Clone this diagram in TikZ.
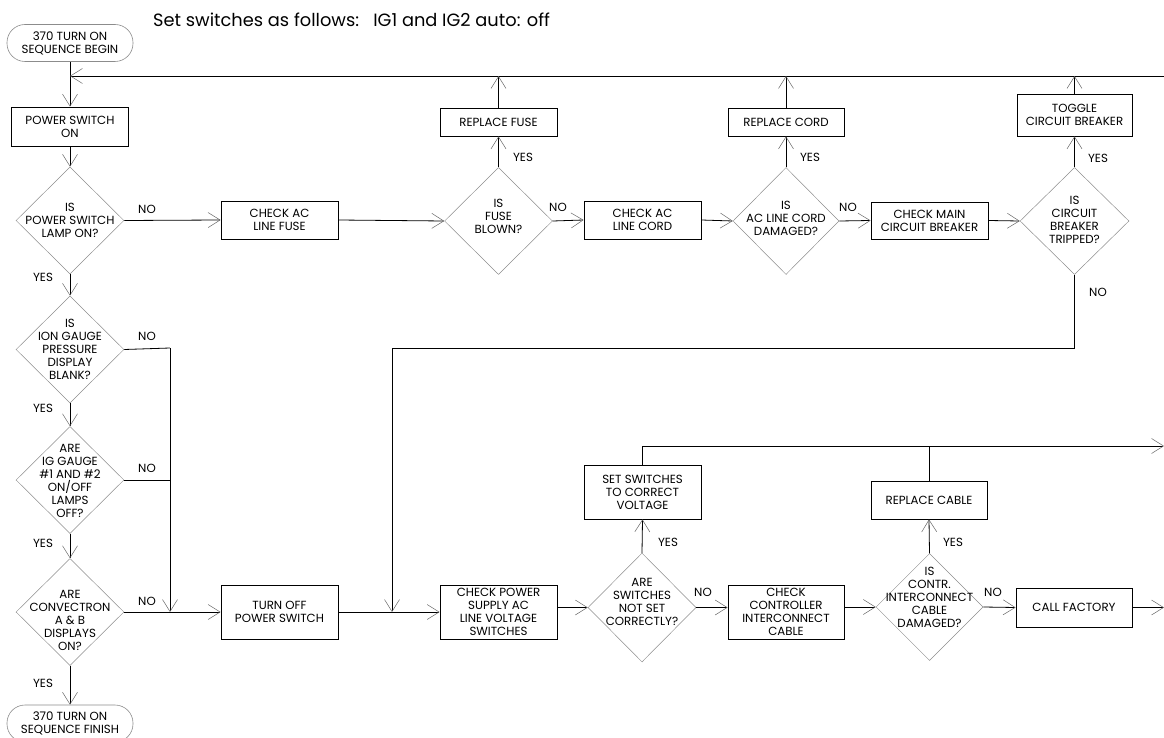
\documentclass[tikz,border=0pt]{standalone}
\usepackage{fontspec}
\setmainfont{Poppins}
\usetikzlibrary{shapes.geometric,arrows.meta}
\begin{document}
\begin{tikzpicture}[x=1pt,y=-1pt,
  every node/.style={font=\fontsize{11.8}{13}\selectfont, inner sep=0pt},
  box/.style={draw, line width=0.8pt, minimum width=117pt, align=center},
  dia/.style={diamond, draw=black!45, line width=0.5pt, minimum width=108pt, minimum height=107pt},
  dtext/.style={align=center},
  term/.style={draw=black!45, line width=0.6pt, rounded corners=18pt, minimum width=126pt, minimum height=37pt, align=center},
  lbl/.style={},
  link/.style={line width=0.8pt},
  >={Straight Barb[length=12pt,width=15pt,line width=0.5pt,color=black!60]}
]
\useasboundingbox (0,0) rectangle (1164,738);

\node[anchor=west, font=\fontsize{17.8}{20}\selectfont] (title) at (153,20) {Set switches as follows:\ \ \ IG1 and IG2 auto: off};

% left column
\node[term] (begin) at (70,43) {370 TURN ON\\SEQUENCE BEGIN};
\node[box, minimum height=39pt] (psw) at (70,126.5) {POWER SWITCH\\ON};
\node[dia] (d1) at (70,220.5) {};
\node[dtext] (d1t) at (70,220) {IS\\POWER SWITCH\\LAMP ON?};
\node[dia] (d2) at (70,349.5) {};
\node[dtext] (d2t) at (70,349) {IS\\ION GAUGE\\PRESSURE\\DISPLAY\\BLANK?};
\node[dia] (d3) at (70,480) {};
\node[dtext] (d3t) at (70,481) {ARE\\IG GAUGE\\\#1 AND \#2\\ON/OFF\\LAMPS\\OFF?};
\node[dia] (d4) at (70,612) {};
\node[dtext] (d4t) at (70,620) {ARE\\CONVECTRON\\A \& B\\DISPLAYS\\ON?};
\node[term] (finish) at (70,723.5) {370 TURN ON\\SEQUENCE FINISH};

\node[box, minimum height=38pt] (fuse) at (279.5,220) {CHECK AC\\LINE FUSE};
\node[box, minimum height=54pt] (toff) at (279.5,612) {TURN OFF\\POWER SWITCH};

% top row
\node[dia] (df) at (498.5,221) {};
\node[dtext] (dft) at (498.5,216) {IS\\FUSE\\BLOWN?};
\node[box, minimum height=28pt] (rf) at (498.5,122) {REPLACE FUSE};
\node[box, minimum height=38pt] (cord) at (642.5,220) {CHECK AC\\LINE CORD};
\node[dia, minimum width=106pt] (dc) at (786,221) {};
\node[dtext] (dct) at (786,218) {IS\\AC LINE CORD\\DAMAGED?};
\node[box, minimum width=116pt, minimum height=28pt] (rc) at (786,122) {REPLACE CORD};
\node[box, minimum height=37pt] (cmb) at (929.5,220.5) {CHECK MAIN\\CIRCUIT BREAKER};
\node[dia, minimum width=109pt] (dcb) at (1074.5,221) {};
\node[dtext] (dcbt) at (1074.5,220) {IS\\CIRCUIT\\BREAKER\\TRIPPED?};
\node[box, minimum width=115pt, minimum height=42pt] (tcb) at (1074.5,115) {TOGGLE\\CIRCUIT BREAKER};

% bottom row
\node[box, minimum height=54pt] (cps) at (498.5,612) {CHECK POWER\\SUPPLY AC\\LINE VOLTAGE\\SWITCHES};
\node[dia, minimum height=109pt] (dsw) at (642,607.5) {};
\node[dtext] (dswt) at (642,602) {ARE\\SWITCHES\\NOT SET\\CORRECTLY?};
\node[box, minimum height=54pt] (ssw) at (642.5,492) {SET SWITCHES\\TO CORRECT\\VOLTAGE};
\node[box, minimum width=116pt, minimum height=54pt] (ccc) at (786,612) {CHECK\\CONTROLLER\\INTERCONNECT\\CABLE};
\node[dia, minimum width=107pt] (dcab) at (929.5,607) {};
\node[dtext] (dcabt) at (929.5,597) {IS\\CONTR.\\INTERCONNECT\\CABLE\\DAMAGED?};
\node[box, minimum width=116pt, minimum height=38pt] (rcab) at (929,500) {REPLACE CABLE};
\node[box, minimum width=116pt, minimum height=39pt] (cf) at (1074,607.5) {CALL FACTORY};

% coordinates
\coordinate (fbL) at (70,76);
\coordinate (fbR) at (1164,76);
\coordinate (noL) at (170,348);
\coordinate (noJ) at (170,612);
\coordinate (ret) at (392,348);
\coordinate (retJ) at (392,612);
\coordinate (bfR) at (1164,446);
\coordinate (cfR) at (1164,607.5);

% connectors
\draw[link,->] (begin) -- (psw);
\draw[link,->] (fbR) -- (fbL);
\draw[link,->] (psw) -- (d1);
\draw[link,->] (d1) -- (d2);
\draw[link,->] (d2) -- (d3);
\draw[link,->] (d3) -- (d4);
\draw[link,->] (d4) -- (finish);
\draw[link,->] (d1.east) -- (fuse.west);
\draw[link] (d2.east) -- (noL);
\draw[link,->] (noL) -- (noJ);
\draw[link] (d3.east) -- (d3.east -| noL);
\draw[link,->] (d4.east) -- (toff.west);
\draw[link,->] (toff.east) -- (cps.west);
\draw[link,->] (dcb.south) -- (dcb.south |- ret) -- (ret) -- (retJ);

\draw[link,->] (fuse.east) -- (df.west);
\draw[link,->] (df.north) -- (rf.south);
\draw[link,->] (rf.north) -- (rf.north |- fbL);
\draw[link,->] (df.east) -- (cord.west);
\draw[link,->] (cord.east) -- (dc.west);
\draw[link,->] (dc.north) -- (rc.south);
\draw[link,->] (rc.north) -- (rc.north |- fbL);
\draw[link,->] (dc.east) -- (cmb.west);
\draw[link,->] (cmb.east) -- (dcb.west);
\draw[link,->] (dcb.north) -- (tcb.south);
\draw[link,->] (tcb.north) -- (tcb.north |- fbL);

\draw[link,->] (cps.east |- dsw) -- (dsw.west);
\draw[link,->] (dsw.north) -- (ssw.south);
\draw[link,->] (ssw.north) -- (ssw.north |- bfR) -- (bfR);
\draw[link] (rcab.north) -- (rcab.north |- bfR);
\draw[link,->] (dsw.east) -- (dsw.east -| ccc.west);
\draw[link,->] (ccc.east |- dcab) -- (dcab.west);
\draw[link,->] (dcab.north) -- (rcab.south);
\draw[link,->] (dcab.east) -- (cf.west);
\draw[link,->] (cf.east) -- (cfR);

% labels
\node[lbl] (n1) at (147,209) {NO};
\node[lbl] (y1) at (43,277) {YES};
\node[lbl] (n2) at (147,336) {NO};
\node[lbl] (y2) at (43,408) {YES};
\node[lbl] (n3) at (147,468) {NO};
\node[lbl] (y3) at (43,543) {YES};
\node[lbl] (n4) at (147,601) {NO};
\node[lbl] (y4) at (43,683) {YES};
\node[lbl] (yf) at (523,157) {YES};
\node[lbl] (nf) at (558,207) {NO};
\node[lbl] (yc) at (810,157) {YES};
\node[lbl] (nc) at (848,207) {NO};
\node[lbl] (ycb) at (1098,158) {YES};
\node[lbl] (ncb) at (1098,292) {NO};
\node[lbl] (ysw) at (668,542) {YES};
\node[lbl] (nsw) at (703,592) {NO};
\node[lbl] (ycab) at (953,542) {YES};
\node[lbl] (ncab) at (993,592) {NO};
\end{tikzpicture}
\end{document}
